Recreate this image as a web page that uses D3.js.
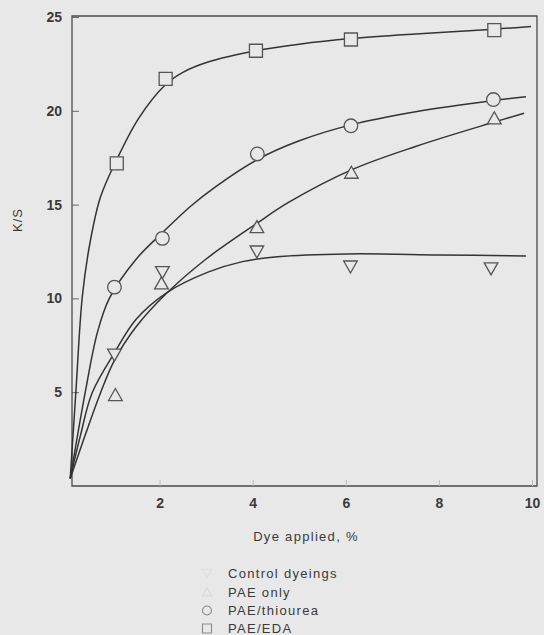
<!DOCTYPE html>
<html>
<head>
<meta charset="utf-8">
<script src="https://cdn.jsdelivr.net/npm/d3@7"></script>
<style>
  html, body { margin: 0; padding: 0; background: #e8e8e8; }
  svg { display: block; }
  text { font-family: "Liberation Sans", Arial, sans-serif; fill: #3a3a3a; }
</style>
</head>
<body>
<script>
// ---- data ----
const xTicks = [2, 4, 6, 8, 10];
const yTicks = [5, 10, 15, 20, 25];
const seriesNames = ["Control dyeings", "PAE only", "PAE/thiourea", "PAE/EDA"];
const seriesSymbols = ["triangleDown", "triangleUp", "circle", "square"];

// measured points (dye applied %, K/S)
const controlX = [1.03, 2.06, 4.09, 6.10, 9.12];
const controlY = [7.0, 11.4, 12.5, 11.7, 11.6];
const paeOnlyX = [1.05, 2.04, 4.09, 6.12, 9.19];
const paeOnlyY = [4.85, 10.8, 13.8, 16.7, 19.6];
const thioureaX = [1.03, 2.06, 4.10, 6.11, 9.17];
const thioureaY = [10.6, 13.2, 17.7, 19.2, 20.6];
const edaX = [1.08, 2.13, 4.07, 6.11, 9.19];
const edaY = [17.2, 21.7, 23.2, 23.8, 24.3];

// fitted curves as drawn
const controlCurveX = [0.08, 0.3, 0.55, 1.03, 1.5, 2.15, 3.04, 3.78, 4.53, 6.03, 8.0, 9.87];
const controlCurveY = [0.4, 2.7, 4.96, 7.1, 8.9, 10.3, 11.4, 11.96, 12.22, 12.37, 12.32, 12.26];
const paeOnlyCurveX = [0.08, 0.4, 0.73, 1.03, 1.5, 2.15, 3.0, 4.09, 4.76, 6.12, 7.5, 9.19, 9.83];
const paeOnlyCurveY = [0.4, 2.7, 4.96, 6.7, 8.5, 10.27, 12.1, 14.0, 15.1, 16.85, 18.1, 19.4, 19.87];
const thioureaCurveX = [0.08, 0.4, 0.66, 0.92, 1.5, 2.06, 2.66, 3.2, 4.1, 5.0, 6.11, 7.5, 9.17, 9.87];
const thioureaCurveY = [0.4, 4.96, 8.15, 10.0, 12.1, 13.5, 14.9, 15.95, 17.4, 18.4, 19.25, 19.95, 20.55, 20.75];
const edaCurveX = [0.08, 0.2, 0.34, 0.5, 0.73, 1.08, 1.55, 2.13, 2.5, 3.04, 4.07, 5.0, 6.11, 7.5, 9.19, 9.98];
const edaCurveY = [0.4, 4.96, 10.1, 12.9, 15.4, 17.4, 19.6, 21.4, 22.05, 22.6, 23.2, 23.55, 23.85, 24.1, 24.35, 24.5];

const W = 544, H = 635;
const bg = "#e8e8e8";
const svg = d3.select("body").append("svg").attr("width", W).attr("height", H);
svg.append("rect").attr("width", W).attr("height", H).attr("fill", bg);

const x = d3.scaleLinear().domain([0, 10]).range([66.5, 532]);
const y = d3.scaleLinear().domain([0, 25]).range([486, 17]);
const frame = { left: 72, right: 537, top: 16, bottom: 486 };

// frame
svg.append("path")
  .attr("d", `M${frame.left},${frame.top}H${frame.right}V${frame.bottom}H${frame.left}Z`)
  .attr("fill", "none").attr("stroke", "#4a4a4a").attr("stroke-width", 1.3);

// axes
const yAxis = svg.append("g").attr("transform", `translate(${frame.left},0)`)
  .call(d3.axisLeft(y).tickValues(yTicks).tickSizeInner(-7).tickSizeOuter(0).tickPadding(10));
yAxis.select(".domain").remove();
yAxis.selectAll("line").attr("stroke", "#666").attr("stroke-width", 1);
yAxis.selectAll("text").attr("font-size", 14).attr("font-weight", "bold")
  .attr("font-family", "Liberation Sans, Arial, sans-serif").attr("fill", "#3a3a3a");

const xAxis = svg.append("g").attr("transform", `translate(0,${frame.bottom})`)
  .call(d3.axisBottom(x).tickValues(xTicks).tickSizeInner(-6).tickSizeOuter(0).tickPadding(12));
xAxis.select(".domain").remove();
xAxis.selectAll("line").attr("stroke", "#bbb").attr("stroke-width", 1);
xAxis.selectAll("text").attr("font-size", 14).attr("font-weight", "bold")
  .attr("font-family", "Liberation Sans, Arial, sans-serif").attr("fill", "#3a3a3a");

// axis titles
svg.append("text").attr("transform", "translate(22,220) rotate(-90)")
  .attr("text-anchor", "middle").attr("font-size", 13).attr("letter-spacing", "1px")
  .text("K/S");
svg.append("text").attr("x", 306).attr("y", 541)
  .attr("text-anchor", "middle").attr("font-size", 13).attr("letter-spacing", "1.3px")
  .text("Dye applied, %");

// curves
const line = d3.line().x(d => x(d[0])).y(d => y(d[1])).curve(d3.curveCatmullRom.alpha(0.5));
const curves = [
  d3.zip(controlCurveX, controlCurveY),
  d3.zip(paeOnlyCurveX, paeOnlyCurveY),
  d3.zip(thioureaCurveX, thioureaCurveY),
  d3.zip(edaCurveX, edaCurveY)
];
svg.append("g").selectAll("path").data(curves).join("path")
  .attr("d", line).attr("fill", "none").attr("stroke", "#333").attr("stroke-width", 1.5);

// markers
function symbolPath(kind, s) {
  if (kind === "square") return `M${-s},${-s}H${s}V${s}H${-s}Z`;
  if (kind === "circle") return `M${-s},0A${s},${s} 0 1,0 ${s},0A${s},${s} 0 1,0 ${-s},0Z`;
  if (kind === "triangleUp") return `M0,${-s}L${s * 1.05},${s * 0.85}L${-s * 1.05},${s * 0.85}Z`;
  if (kind === "triangleDown") return `M0,${s}L${s * 1.05},${-s * 0.85}L${-s * 1.05},${-s * 0.85}Z`;
}
const pointSets = [
  d3.zip(controlX, controlY),
  d3.zip(paeOnlyX, paeOnlyY),
  d3.zip(thioureaX, thioureaY),
  d3.zip(edaX, edaY)
];
const sizes = { square: 6.5, circle: 6.8, triangleUp: 6.5, triangleDown: 6.5 };
pointSets.forEach((pts, i) => {
  const kind = seriesSymbols[i];
  svg.append("g").selectAll("path").data(pts).join("path")
    .attr("transform", d => `translate(${x(d[0])},${y(d[1])})`)
    .attr("d", symbolPath(kind, sizes[kind]))
    .attr("fill", bg).attr("stroke", "#555").attr("stroke-width", 1.3);
});

// legend
const legendRows = [573, 592, 610.5, 628.5];
const legendStroke = ["#dedede", "#d8d8d8", "#8a8a8a", "#8a8a8a"];
const lg = svg.append("g");
seriesNames.forEach((name, i) => {
  lg.append("path")
    .attr("transform", `translate(207,${legendRows[i]})`)
    .attr("d", symbolPath(seriesSymbols[i], 4.5))
    .attr("fill", "none").attr("stroke", legendStroke[i]).attr("stroke-width", 1.1);
  lg.append("text").attr("x", 228).attr("y", legendRows[i] + 4.6)
    .attr("font-size", 13).attr("letter-spacing", "1.3px").attr("fill", "#3a3a3a")
    .text(name);
});
</script>
</body>
</html>
